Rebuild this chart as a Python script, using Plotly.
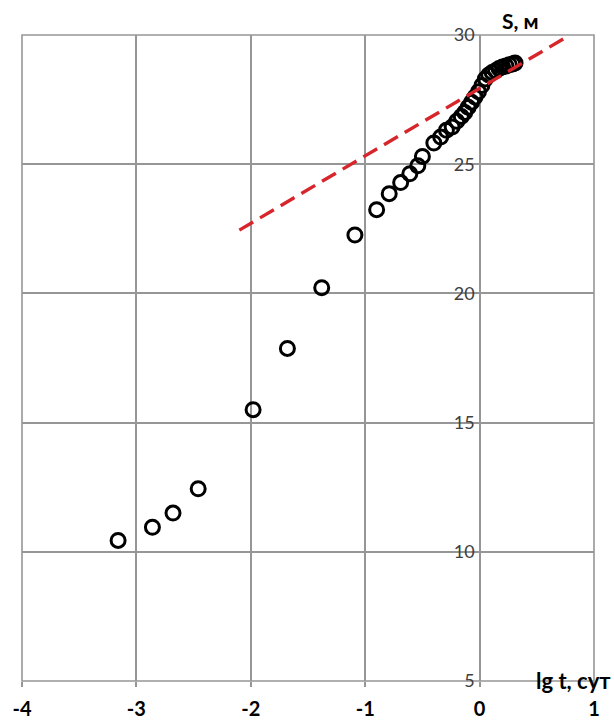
import plotly.graph_objects as go

# Data (lg t, S)
lg_t = [-3.16, -2.86, -2.68, -2.46, -1.98, -1.68, -1.38, -1.09, -0.90, -0.79,
        -0.69, -0.61, -0.54, -0.50, -0.40, -0.34, -0.29, -0.24, -0.20, -0.16,
        -0.13, -0.10, -0.07, -0.04, -0.01, 0.02, 0.05, 0.08, 0.11, 0.14,
        0.17, 0.20, 0.23, 0.26, 0.29, 0.31]
s_m = [10.44, 10.95, 11.5, 12.44, 15.5, 17.87, 20.22, 22.26, 23.24, 23.86,
       24.29, 24.63, 24.94, 25.3, 25.82, 26.05, 26.31, 26.44, 26.66, 26.85,
       27.0, 27.2, 27.4, 27.6, 27.8, 28.05, 28.3, 28.45, 28.55, 28.62,
       28.7, 28.76, 28.8, 28.85, 28.88, 28.92]

trend_x = [-2.10, 0.79]
trend_y = [22.45, 30.0]

x_ticks = [-4, -3, -2, -1, 0, 1]
y_ticks = [5, 10, 15, 20, 25, 30]

GRID = "#969696"
FONT = "Lato"

fig = go.Figure()
fig.add_trace(go.Scatter(
    x=lg_t, y=s_m, mode="markers",
    marker=dict(symbol="circle-open", size=14, color="black",
                line=dict(width=3, color="black")),
    showlegend=False, cliponaxis=False))
fig.add_trace(go.Scatter(
    x=trend_x, y=trend_y, mode="lines",
    line=dict(color="#d7262b", width=3.4, dash="16px,8px"),
    showlegend=False, cliponaxis=False))

fig.update_layout(
    width=614, height=720,
    margin=dict(l=22, r=20, t=35, b=39),
    plot_bgcolor="white", paper_bgcolor="white",
    font=dict(family=FONT, color="black"),
    xaxis=dict(range=[-4, 1], tickvals=x_ticks,
               ticktext=[f"<b>{v}</b>" for v in x_ticks],
               showgrid=True, gridcolor=GRID, gridwidth=1.6,
               zeroline=False, showline=False, automargin=False,
               ticks="outside", ticklen=5, tickcolor=GRID, tickwidth=1.6,
               ticklabelstandoff=5,
               tickfont=dict(size=20, color="black", family=FONT)),
    yaxis=dict(range=[5, 30], tickvals=y_ticks,
               showgrid=True, gridcolor=GRID, gridwidth=1.6,
               zeroline=False, showline=False, automargin=False,
               anchor="free", position=0.8, side="left",
               ticks="", ticklabelstandoff=5,
               tickfont=dict(size=18, color="#404040", family=FONT)),
    shapes=[dict(type="rect", xref="paper", yref="paper", x0=0, x1=1, y0=0, y1=1,
                 line=dict(color=GRID, width=1.6), layer="below")],
    annotations=[
        dict(text="<b>S, м</b>", xref="x", yref="paper", x=0.36, y=1.0,
             yanchor="middle", yshift=15, showarrow=False,
             font=dict(size=21, color="black", family=FONT)),
        dict(text="<b>lg t, сут</b>", xref="x", yref="paper", x=0.82, y=0,
             yanchor="middle", yshift=1, showarrow=False,
             font=dict(size=22, color="black", family=FONT)),
    ],
)

fig.write_html("out.html")
